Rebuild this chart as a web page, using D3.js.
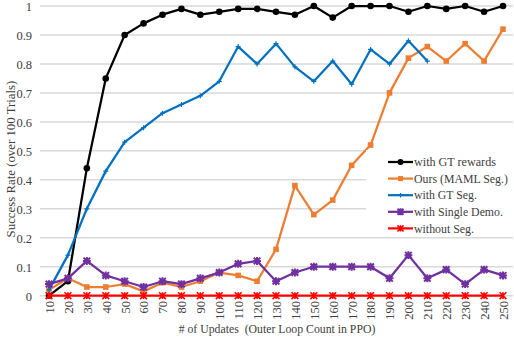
<!DOCTYPE html>
<html><head><meta charset="utf-8">
<script src="https://cdn.jsdelivr.net/npm/d3@7"></script>
<style>body{margin:0;background:#fff}svg{display:block}svg text{font-family:"Liberation Serif","Times New Roman","DejaVu Serif",serif !important}</style>
</head><body>
<svg id="c" width="514" height="340"></svg>
<script>
const categories = [10,20,30,40,50,60,70,80,90,100,110,120,130,140,150,160,170,180,190,200,210,220,230,240,250];
const gtRewards = [0,0.05,0.44,0.75,0.9,0.94,0.97,0.99,0.97,0.98,0.99,0.99,0.98,0.97,1.0,0.96,1.0,1.0,1.0,0.98,1.0,0.99,1.0,0.98,1.0];
const oursMaml = [0.02,0.06,0.03,0.03,0.04,0.015,0.045,0.03,0.05,0.08,0.07,0.05,0.16,0.38,0.28,0.33,0.45,0.52,0.7,0.82,0.86,0.81,0.87,0.81,0.92];
const gtSeg = [0.02,0.14,0.3,0.43,0.53,0.58,0.63,0.66,0.69,0.74,0.86,0.8,0.87,0.79,0.74,0.81,0.73,0.85,0.8,0.88,0.81];
const singleDemo = [0.04,0.06,0.12,0.07,0.05,0.03,0.05,0.04,0.06,0.08,0.11,0.12,0.05,0.08,0.1,0.1,0.1,0.1,0.06,0.14,0.06,0.09,0.04,0.09,0.07];
const withoutSeg = [0,0,0,0,0,0,0,0,0,0,0,0,0,0,0,0,0,0,0,0,0,0,0,0,0];
const yTicks = [0,0.1,0.2,0.3,0.4,0.5,0.6,0.7,0.8,0.9,1];
const seriesNames = ["with GT rewards","Ours (MAML Seg.)","with GT Seg.","with Single Demo.","without Seg."];
const yTitle = "Success Rate (over 100 Trials)";
const xTitle = "# of Updates  (Outer Loop Count in PPO)";

const series = [
  {name: seriesNames[0], values: gtRewards, color: "#000000", marker: "circle"},
  {name: seriesNames[1], values: oursMaml, color: "#ED7D31", marker: "square"},
  {name: seriesNames[2], values: gtSeg, color: "#0070C0", marker: "plus"},
  {name: seriesNames[3], values: singleDemo, color: "#7030A0", marker: "star"},
  {name: seriesNames[4], values: withoutSeg, color: "#FF0000", marker: "x"}
];

const FONT = '"Liberation Serif","Times New Roman","DejaVu Serif",serif';
const svg = d3.select("#c");
const x = d3.scalePoint().domain(categories).range([49, 503]);
const y = d3.scaleLinear().domain([0,1]).range([295.7, 6]);

// shrink a text's font so it is no wider than a given width
function fit(sel, base, maxW) {
  sel.attr("font-size", base);
  const w = sel.node().getComputedTextLength();
  if (w > maxW) sel.attr("font-size", base * maxW / w);
  return sel;
}

// gridlines
svg.append("g").selectAll("line").data(yTicks).join("line")
  .attr("x1", 40).attr("x2", 513)
  .attr("y1", d => y(d)).attr("y2", d => y(d))
  .attr("stroke", "#d9d9d9").attr("stroke-width", 1.5);

// y axis
const yAxis = d3.axisLeft(y).tickValues(yTicks).tickSize(0).tickPadding(0).tickFormat(d => d3.format("~g")(d));
const gy = svg.append("g").attr("transform", "translate(32,0)").call(yAxis);
gy.attr("font-family", FONT);
gy.select(".domain").remove();
gy.selectAll("text").attr("font-size", 12.5).attr("fill", "#404040").style("font-family", FONT).attr("dy", "0.35em");

// x axis
const xAxis = d3.axisBottom(x).tickSize(0).tickPadding(0);
const gx = svg.append("g").attr("transform", "translate(0,300)").call(xAxis);
gx.attr("font-family", FONT);
gx.select(".domain").remove();
gx.selectAll(".tick text").attr("font-size", 12.5).attr("fill", "#404040").style("font-family", FONT)
  .attr("text-anchor", "end").attr("transform", "rotate(-90)").attr("x", -1).attr("y", 0).attr("dy", "0.35em");

// markers
function drawMarker(g, type, color, cx, cy, s) {
  s = s || 1;
  if (type === "circle") {
    g.append("circle").attr("cx", cx).attr("cy", cy).attr("r", 3.3*s).attr("fill", color);
  } else if (type === "square") {
    g.append("rect").attr("x", cx-2.8*s).attr("y", cy-2.8*s).attr("width", 5.6*s).attr("height", 5.6*s).attr("fill", color);
  } else if (type === "plus") {
    g.append("path").attr("d", `M${cx-2.5*s},${cy}H${cx+2.5*s}M${cx},${cy-2.5*s}V${cy+2.5*s}`).attr("stroke", color).attr("stroke-width", 1.2);
  } else if (type === "star") {
    const r = 3.3*s;
    g.append("path").attr("d", `M${cx-r},${cy-r}L${cx+r},${cy+r}M${cx-r},${cy+r}L${cx+r},${cy-r}M${cx},${cy-r*1.2}V${cy+r*1.2}M${cx-r*1.2},${cy}H${cx+r*1.2}`)
      .attr("stroke", color).attr("stroke-width", 2);
  } else if (type === "x") {
    const r = 3.4*s;
    g.append("path").attr("d", `M${cx-r},${cy-r}L${cx+r},${cy+r}M${cx-r},${cy+r}L${cx+r},${cy-r}M${cx},${cy-r}V${cy+r}`)
      .attr("stroke", color).attr("stroke-width", 1.6);
  }
}

const line = d3.line().x((d,i) => x(categories[i])).y(d => y(d));
const plot = svg.append("g");
series.forEach(s => {
  const g = plot.append("g");
  g.append("path").datum(s.values).attr("d", line).attr("fill", "none")
    .attr("stroke", s.color).attr("stroke-width", 2.25).attr("stroke-linejoin", "round");
  s.values.forEach((v,i) => drawMarker(g, s.marker, s.color, x(categories[i]), y(v)));
});

// legend
const lg = svg.append("g");
lg.append("rect").attr("x", 366).attr("y", 150).attr("width", 147).attr("height", 87).attr("fill", "#fff");
const legendWidths = [82, 94, 63, 89, 60];
series.forEach((s,i) => {
  const yy = 162 + i*16.6;
  lg.append("line").attr("x1", 388).attr("x2", 413).attr("y1", yy).attr("y2", yy).attr("stroke", s.color).attr("stroke-width", 2.25);
  drawMarker(lg, s.marker, s.color, 400.5, yy, 0.9);
  const t = lg.append("text").attr("x", 414).attr("y", yy).attr("dy", "0.35em").attr("fill", "#404040").style("font-family", FONT).text(s.name);
  fit(t, 13, legendWidths[i]);
});

// titles
const yt = svg.append("text").attr("transform", "translate(10,159) rotate(-90)").attr("text-anchor", "middle").attr("dy", "0.35em")
  .attr("fill", "#404040").style("font-family", FONT).text(yTitle);
fit(yt, 13, 157);
const xt = svg.append("text").attr("x", 277).attr("y", 333).attr("text-anchor", "middle")
  .attr("fill", "#404040").style("font-family", FONT).style("white-space", "pre").text(xTitle);
fit(xt, 13.5, 197);
</script>
</body></html>
